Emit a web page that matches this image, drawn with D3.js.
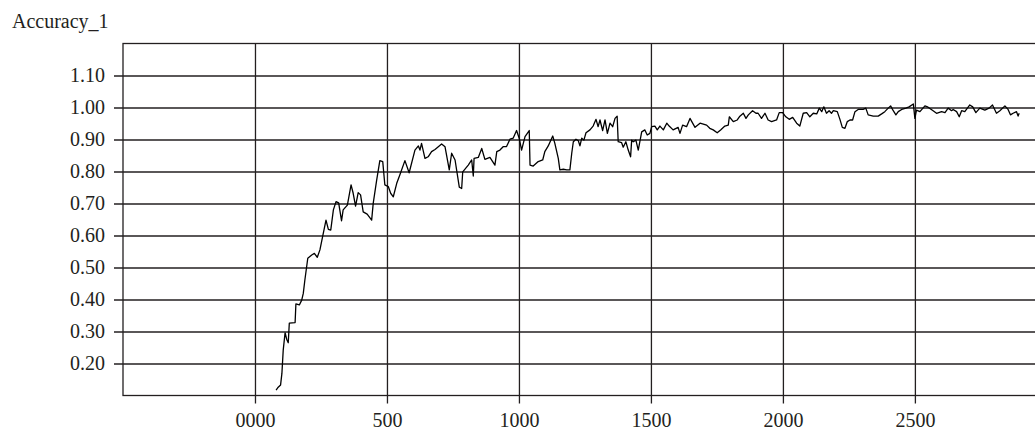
<!DOCTYPE html>
<html>
<head>
<meta charset="utf-8">
<script src="https://cdn.jsdelivr.net/npm/d3@7"></script>
<style>
  html, body { margin: 0; padding: 0; background: #fff; overflow: hidden; }
  svg { display: block; }
  text { font-family: "Liberation Serif", "DejaVu Serif", serif; fill: #231f20; }
</style>
</head>
<body>
<svg id="chart" width="1035" height="430"></svg>
<script>
// training steps (x) and accuracy (y)
const steps = [
  80, 88, 97, 102, 107, 114, 120, 126, 130, 152, 155, 168, 177, 183, 189, 200, 215, 225, 236, 246,
  256, 269, 278, 287, 297, 307, 317, 328, 334, 350, 364, 372, 381, 391, 400, 410, 425, 442, 448, 461,
  473, 484, 492, 505, 514, 524, 537, 549, 568, 584, 606, 619, 625, 631, 644, 656, 669, 682, 707, 720,
  736, 745, 758, 774, 783, 787, 808, 821, 827, 830, 846, 859, 871, 890, 909, 916, 928, 941, 953, 966,
  978, 991, 1001, 1010, 1023, 1039, 1042, 1054, 1073, 1090, 1098, 1111, 1128, 1136, 1149, 1155, 1168, 1181, 1193, 1200,
  1206, 1216, 1225, 1231, 1238, 1246, 1254, 1269, 1281, 1292, 1300, 1307, 1317, 1326, 1335, 1345, 1355, 1364, 1372, 1376,
  1389, 1395, 1405, 1414, 1423, 1427, 1433, 1443, 1452, 1465, 1477, 1486, 1496, 1503, 1515, 1524, 1534, 1547, 1560, 1569,
  1584, 1603, 1610, 1620, 1635, 1648, 1658, 1667, 1686, 1711, 1723, 1736, 1751, 1764, 1780, 1793, 1797, 1812, 1827, 1837,
  1850, 1860, 1869, 1885, 1898, 1906, 1919, 1932, 1944, 1957, 1976, 1986, 1999, 2011, 2024, 2037, 2052, 2064, 2077, 2090,
  2102, 2115, 2128, 2138, 2147, 2155, 2165, 2175, 2184, 2191, 2206, 2216, 2225, 2235, 2244, 2254, 2264, 2273, 2285, 2304,
  2314, 2323, 2342, 2361, 2374, 2386, 2399, 2408, 2418, 2428, 2437, 2450, 2466, 2478, 2494, 2500, 2506, 2519, 2538, 2550,
  2569, 2582, 2601, 2614, 2626, 2639, 2645, 2658, 2668, 2677, 2689, 2708, 2719, 2731, 2746, 2765, 2781, 2794, 2809, 2822,
  2841, 2853, 2862, 2872, 2885, 2891, 2895
];
const accuracy = [
  0.117, 0.126, 0.133, 0.169, 0.242, 0.296, 0.276, 0.265, 0.326, 0.328, 0.386, 0.383, 0.398, 0.419, 0.461, 0.529, 0.539, 0.544, 0.532, 0.555,
  0.596, 0.648, 0.619, 0.617, 0.680, 0.706, 0.702, 0.646, 0.680, 0.695, 0.758, 0.732, 0.692, 0.734, 0.727, 0.674, 0.667, 0.648, 0.701, 0.773,
  0.834, 0.831, 0.758, 0.753, 0.732, 0.721, 0.763, 0.790, 0.834, 0.796, 0.867, 0.880, 0.867, 0.888, 0.841, 0.846, 0.862, 0.869, 0.886, 0.877,
  0.805, 0.857, 0.836, 0.751, 0.747, 0.799, 0.820, 0.836, 0.786, 0.841, 0.844, 0.872, 0.838, 0.844, 0.820, 0.862, 0.867, 0.878, 0.878, 0.901,
  0.904, 0.928, 0.904, 0.867, 0.909, 0.928, 0.820, 0.817, 0.831, 0.836, 0.862, 0.880, 0.911, 0.888, 0.841, 0.805, 0.807, 0.805, 0.805, 0.857,
  0.893, 0.901, 0.896, 0.880, 0.904, 0.898, 0.921, 0.930, 0.942, 0.963, 0.940, 0.961, 0.928, 0.961, 0.919, 0.951, 0.940, 0.966, 0.973, 0.893,
  0.890, 0.876, 0.893, 0.867, 0.846, 0.898, 0.893, 0.898, 0.867, 0.924, 0.930, 0.914, 0.919, 0.940, 0.942, 0.930, 0.942, 0.930, 0.951, 0.942,
  0.930, 0.938, 0.919, 0.945, 0.940, 0.966, 0.951, 0.938, 0.951, 0.945, 0.935, 0.930, 0.921, 0.930, 0.942, 0.945, 0.971, 0.956, 0.961, 0.973,
  0.982, 0.966, 0.977, 0.990, 0.982, 0.982, 0.966, 0.982, 0.961, 0.956, 0.961, 0.984, 0.984, 0.971, 0.963, 0.969, 0.951, 0.942, 0.982, 0.984,
  0.971, 0.982, 0.980, 0.998, 0.987, 1.002, 0.982, 0.990, 0.982, 0.990, 0.987, 0.963, 0.938, 0.935, 0.956, 0.961, 0.961, 0.987, 0.994, 0.994,
  0.998, 0.977, 0.973, 0.973, 0.980, 0.987, 0.998, 1.005, 0.990, 0.977, 0.987, 0.994, 0.998, 1.002, 1.011, 0.966, 0.992, 0.987, 1.005, 1.001,
  0.990, 0.982, 0.987, 0.984, 0.998, 0.990, 0.994, 0.987, 0.971, 0.990, 0.987, 1.008, 1.002, 0.984, 0.998, 0.992, 0.998, 1.008, 0.982, 0.990,
  1.005, 0.994, 0.977, 0.982, 0.987, 0.973, 0.982
];
const xTicks = [0, 500, 1000, 1500, 2000, 2500];
const yTicks = [0.2, 0.3, 0.4, 0.5, 0.6, 0.7, 0.8, 0.9, 1.0, 1.1];
const yTitle = 'Accuracy_1';

const margin = { top: 43.5, right: 0, bottom: 34.5, left: 123 };
const W = 1035, H = 430;
const svg = d3.select('#chart');

const x = d3.scaleLinear().domain([-500, 2955]).range([margin.left, W]);
const y = d3.scaleLinear().domain([0.1, 1.2]).range([H - margin.bottom, margin.top]);

const ink = '#231f20';

// vertical grid + x labels
const xAxis = d3.axisBottom(x)
  .tickValues(xTicks)
  .tickSize(y(0.1) - margin.top + 8)
  .tickPadding(9)
  .tickFormat(d => d === 0 ? '0000' : String(d));
const gx = svg.append('g')
  .attr('transform', 'translate(0,' + margin.top + ')')
  .call(xAxis);
gx.select('.domain').remove();
gx.selectAll('line').attr('stroke', ink).attr('stroke-width', 1.3);
gx.selectAll('text').style('font-size', '20px').attr('fill', ink);

// horizontal grid + y labels
const yAxis = d3.axisLeft(y)
  .tickValues(yTicks)
  .tickSize(W + 5 - (margin.left - 9))
  .tickPadding(9)
  .tickFormat(d3.format('.2f'));
const gy = svg.append('g')
  .attr('transform', 'translate(' + (W + 5) + ',0)')
  .call(yAxis);
gy.select('.domain').remove();
gy.selectAll('line').attr('stroke', ink).attr('stroke-width', 1.3);
gy.selectAll('text').style('font-size', '20px').attr('fill', ink);

// frame (right side runs off the page)
svg.append('rect')
  .attr('x', margin.left)
  .attr('y', margin.top)
  .attr('width', W + 10 - margin.left)
  .attr('height', y(0.1) - margin.top)
  .attr('fill', 'none')
  .attr('stroke', ink)
  .attr('stroke-width', 1.3);

// series
const pts = steps.map((s, i) => [s, accuracy[i]]);
const line = d3.line()
  .x(d => x(d[0]))
  .y(d => y(d[1]));
svg.append('path')
  .datum(pts)
  .attr('d', line)
  .attr('fill', 'none')
  .attr('stroke', '#000')
  .attr('stroke-width', 1.3)
  .attr('stroke-linejoin', 'round');

// axis title
svg.append('text')
  .attr('x', 12)
  .attr('y', 28)
  .style('font-size', '20px')
  .text(yTitle);
</script>
</body>
</html>
